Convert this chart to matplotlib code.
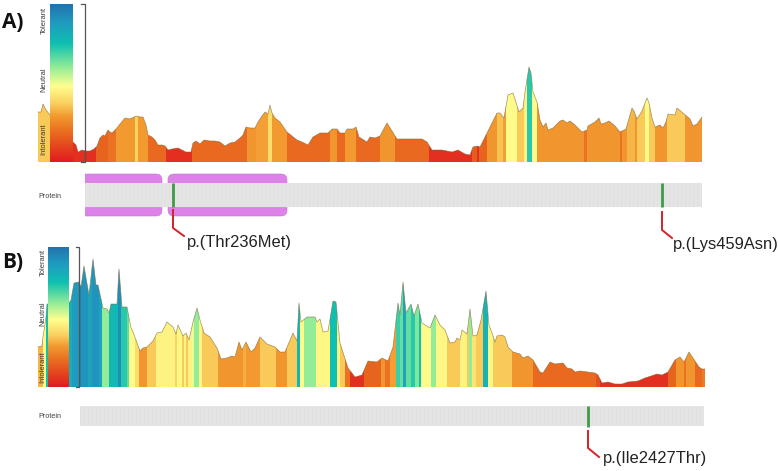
"""Two tolerance landscapes with protein tracks and labelled variants."""
import numpy as np
import matplotlib
matplotlib.use('Agg')
import matplotlib.pyplot as plt
from matplotlib.colors import LinearSegmentedColormap
from matplotlib.patches import FancyBboxPatch, Polygon, Rectangle

# Heights in pixels above each panel's baseline.
A_X = [38, 41, 43, 46, 50, 73, 76, 78, 82, 86, 90, 94, 97, 100, 103, 105, 108, 110, 112, 116, 120, 125,
       130, 134, 137, 140, 143, 146, 148, 152, 155, 158, 162, 165, 168, 172, 178, 182, 186, 191, 193,
       196, 200, 204, 210, 215, 220, 225, 230, 235, 240, 243, 246, 250, 255, 258, 262, 265, 268, 270,
       272, 275, 280, 287, 292, 297, 302, 308, 313, 320, 328, 332, 337, 340, 345, 347, 353, 356, 359,
       367, 370, 375, 380, 387, 397, 407, 413, 422, 427, 432, 442, 452, 458, 465, 470, 473, 477, 480,
       487, 497, 500, 504, 508, 513, 519, 523, 525, 529, 531, 533, 537, 540, 543, 546, 548, 553, 560,
       563, 567, 570, 575, 582, 587, 588, 595, 599, 601, 605, 609, 615, 620, 626, 632, 634, 637, 642,
       647, 649, 652, 655, 660, 663, 666, 668, 675, 677, 683, 690, 693, 697, 702]
A_H = [50, 50, 58, 52, 47, 20, 17, 10, 12, 11, 11, 13, 16, 24, 27, 26, 32, 30, 29, 33, 38, 44,
       43, 45, 46, 45, 45, 37, 27, 25, 22, 17, 17, 16, 12, 13, 14, 12, 10, 10, 19,
       21, 18, 22, 21, 21, 20, 16, 19, 20, 24, 27, 35, 34, 34, 40, 46, 50, 48, 57,
       49, 44, 40, 30, 26, 22, 20, 17, 25, 29, 29, 33, 33, 29, 29, 33, 33, 35, 25,
       20, 25, 24, 26, 39, 23, 23, 23, 23, 20, 12, 12, 10, 12, 8, 7, 15, 16, 15,
       29, 49, 49, 44, 67, 69, 50, 54, 70, 95, 89, 70, 60, 42, 35, 39, 32, 34, 41,
       42, 39, 41, 37, 30, 32, 36, 40, 44, 38, 39, 41, 36, 30, 33, 54, 51, 43, 51,
       64, 59, 44, 35, 37, 34, 40, 48, 47, 54, 49, 43, 36, 38, 45]
# Right edge of each coloured stripe and its tolerance score (0 intolerant, 1 tolerant).
A_EDGES = [73, 96, 108, 116, 135, 138, 148, 166, 192, 247, 256, 268, 272, 287, 330, 337, 345, 356, 380,
           395, 429, 472, 477, 479, 487, 497, 503, 506, 517, 524, 527, 532, 537, 584, 587, 620, 622,
           627, 635, 637, 645, 649, 655, 667, 685, 702]
A_SCORES = [0.36, 0.05, 0.17, 0.2, 0.29, 0.38, 0.29, 0.18, 0.05, 0.18, 0.28, 0.3, 0.4, 0.29, 0.18, 0.28,
            0.18, 0.29, 0.18, 0.28, 0.18, 0.05, 0.15, 0.05, 0.17, 0.28, 0.35, 0.3, 0.47, 0.36, 0.45,
            0.72, 0.47, 0.28, 0.2, 0.28, 0.2, 0.28, 0.33, 0.28, 0.36, 0.47, 0.36, 0.28, 0.36, 0.28]

B_X = [38, 42, 43, 46, 47, 69, 71, 74, 79, 81, 84, 89, 93, 96, 98, 103, 107, 109, 111, 117, 119, 122,
       127, 131, 133, 140, 143, 147, 153, 157, 162, 167, 173, 176, 178, 183, 186, 189, 193, 197, 200,
       204, 210, 217, 221, 227, 232, 235, 239, 242, 246, 251, 255, 260, 267, 275, 280, 285, 293, 297,
       299, 301, 307, 315, 317, 320, 323, 328, 333, 336, 340, 348, 355, 362, 368, 377, 382, 388, 393,
       398, 400, 403, 406, 411, 414, 418, 422, 430, 435, 440, 445, 450, 455, 457, 460, 462, 467, 470,
       473, 477, 481, 486, 489, 492, 495, 497, 502, 505, 508, 513, 520, 523, 528, 533, 540, 543, 550,
       555, 563, 567, 572, 575, 580, 595, 598, 602, 608, 615, 622, 628, 638, 645, 657, 662, 668, 675,
       680, 684, 689, 693, 699, 702, 705]
B_H = [40, 41, 50, 70, 83, 84, 87, 104, 105, 100, 121, 92, 128, 102, 102, 79, 78, 74, 83, 83, 118, 80,
       80, 59, 55, 36, 39, 40, 46, 54, 55, 65, 60, 53, 62, 51, 54, 47, 65, 79, 67,
       54, 50, 39, 28, 29, 31, 30, 45, 37, 45, 35, 39, 50, 43, 40, 35, 35, 54, 46,
       84, 65, 70, 70, 65, 68, 55, 56, 86, 85, 44, 19, 10, 12, 26, 25, 29, 26, 40,
       84, 72, 105, 74, 83, 71, 83, 64, 59, 72, 62, 57, 44, 45, 49, 47, 57, 53, 78,
       51, 52, 67, 96, 62, 54, 45, 51, 52, 50, 40, 35, 33, 29, 31, 27, 15, 14, 25,
       23, 24, 19, 18, 15, 16, 14, 12, 4, 5, 3, 3, 5, 6, 9, 13, 12, 15, 27,
       30, 25, 35, 29, 20, 18, 18]
B_EDGES = [43, 46, 48, 72, 79, 81, 88, 92, 99, 102, 109, 118, 121, 127, 129, 135, 139, 147, 156, 175, 177,
           182, 184, 186, 188, 192, 194, 199, 202, 218, 243, 246, 260, 276, 287, 297, 300, 304, 316, 330,
           337, 340, 345, 350, 364, 381, 385, 390, 396, 400, 403, 406, 411, 415, 419, 421, 431, 436, 447,
           460, 467, 469, 472, 476, 483, 488, 493, 512, 533, 596, 600, 668, 676, 684, 686, 695, 702, 705]
B_SCORES = [0.33, 0.47, 0.75, 0.82, 0.88, 0.95, 0.9, 0.85, 0.9, 0.85, 0.6, 0.78, 0.92, 0.72, 0.65, 0.47, 0.4,
            0.28, 0.36, 0.45, 0.38, 0.46, 0.36, 0.46, 0.36, 0.45, 0.5, 0.6, 0.46, 0.36, 0.28, 0.32, 0.29, 0.36,
            0.28, 0.36, 0.78, 0.47, 0.6, 0.46, 0.75, 0.45, 0.36, 0.2, 0.05, 0.17, 0.28, 0.2, 0.3, 0.7, 0.65,
            0.85, 0.65, 0.72, 0.62, 0.75, 0.47, 0.6, 0.46, 0.36, 0.45, 0.36, 0.6, 0.42, 0.36, 0.8, 0.46, 0.36,
            0.28, 0.18, 0.12, 0.05, 0.17, 0.28, 0.2, 0.28, 0.18, 0.22]

SCALE_LABELS = ['Tolerant', 'Neutral', 'Intolerant']
PANEL_LABELS = ['A)', 'B)']
VARIANTS_A = ['p.(Thr236Met)', 'p.(Lys459Asn)']
VARIANTS_B = ['p.(Ile2427Thr)']

CMAP = LinearSegmentedColormap.from_list('tol', [
    (0.0, '#e01b1f'), (0.18, '#e8691f'), (0.29, '#f29a30'), (0.37, '#fad05f'),
    (0.48, '#ffff8e'), (0.6, '#92ec98'), (0.75, '#0fc0b0'), (0.88, '#1f9cc0'), (1.0, '#2272ae')])
TEXT = '#222222'
RED = '#d3222a'


def draw_profile(ax, xs, heights, edges, scores, base):
    outline = [(xs[0], base)] + [(x, base - h) for x, h in zip(xs, heights)] + [(xs[-1], base)]
    clip = Polygon(outline, closed=True, transform=ax.transData, facecolor='none', edgecolor='none')
    ax.add_patch(clip)
    lefts = [xs[0]] + edges[:-1]
    for left, right, score in zip(lefts, edges, scores):
        bar = ax.bar(left, -(max(heights) + 2), width=right - left + 0.4, bottom=base, align='edge',
                     color=CMAP(score), linewidth=0)
        bar[0].set_clip_path(clip)
    ax.plot(xs, [base - h for h in heights], color='#7d6a3a', lw=0.5, alpha=0.7, zorder=3)


def draw_scale(ax, x0, x1, top, base, bracket_x, tick_len, label_x, label_ys):
    grad = np.linspace(1, 0, 256).reshape(-1, 1)
    ax.imshow(grad, cmap=CMAP, vmin=0, vmax=1, extent=(x0, x1, base, top), aspect='auto', zorder=4)
    ax.plot([bracket_x - tick_len, bracket_x, bracket_x, bracket_x - tick_len],
            [top, top, base, base], color='#555555', lw=0.9, zorder=5)
    for text, y in zip(SCALE_LABELS, label_ys):
        ax.text(label_x, y, text, rotation=90, ha='center', va='center', fontsize=5.4,
                color='#3a3a3a', zorder=6)


def draw_track(ax, x0, x1, top, bottom, text_y):
    ax.add_patch(Rectangle((x0, top), x1 - x0, bottom - top, facecolor='#e4e4e4', edgecolor='none', zorder=2))
    ax.vlines(np.arange(x0, x1, 4), top, bottom, color='#e0e0e0', lw=0.4, zorder=2)
    ax.text(38, text_y, 'Protein', ha='left', va='center', fontsize=5.2, color='#444444')


def draw_variant(ax, x, top, bottom, line_top, knee, end, text, text_xy):
    ax.plot([x, x], [top, bottom], color='#3f9a4a', lw=2, solid_capstyle='butt', zorder=4)
    ax.plot([x, x, end[0]], [line_top, knee, end[1]], color=RED, lw=1.4, zorder=4)
    ax.text(text_xy[0], text_xy[1], text, ha='left', va='center', fontsize=11.9, color=TEXT)


def main():
    plt.rcParams['font.family'] = ['Liberation Sans', 'DejaVu Sans']
    fig = plt.figure(figsize=(7.78, 4.71), dpi=100)
    ax = fig.add_axes([0, 0, 1, 1])

    # --- panel A ---
    draw_profile(ax, A_X, A_H, A_EDGES, A_SCORES, 162)
    draw_scale(ax, 50, 73, 4, 162, 85, 4, 44, [21, 80, 139])
    clip = Rectangle((85, 170), 300, 50, transform=ax.transData)
    first = FancyBboxPatch((65, 174), 97, 42, boxstyle='round,pad=0,rounding_size=6',
                           facecolor='#dc82e8', edgecolor='#c973d6', lw=0.4, zorder=1)
    ax.add_patch(first)
    first.set_clip_path(clip)
    ax.add_patch(FancyBboxPatch((168, 174), 119, 42, boxstyle='round,pad=0,rounding_size=6',
                                facecolor='#dc82e8', edgecolor='#c973d6', lw=0.4, zorder=1))
    draw_track(ax, 85, 702, 183, 207, 197)
    draw_variant(ax, 173, 183, 207, 210, 228, (184, 236), VARIANTS_A[0], (187, 242))
    draw_variant(ax, 662, 183, 207, 212, 230, (672, 238), VARIANTS_A[1], (673, 245))

    # --- panel B ---
    draw_profile(ax, B_X, B_H, B_EDGES, B_SCORES, 387)
    draw_scale(ax, 48, 69, 247, 387, 79, 3, 43, [262, 314, 367])
    draw_track(ax, 80, 704, 406, 426, 417)
    draw_variant(ax, 588, 406, 427, 431, 448, (599, 457), VARIANTS_B[0], (603, 458))

    ax.text(2, 23, PANEL_LABELS[0], fontsize=15, fontweight='bold', color='#111111',
            family=['Open Sans', 'DejaVu Sans'], ha='left', va='center')
    ax.text(2, 262, PANEL_LABELS[1], fontsize=15, fontweight='bold', color='#111111',
            family=['Open Sans', 'DejaVu Sans'], ha='left', va='center')

    ax.set_xlim(0, 778)
    ax.set_ylim(471, 0)
    ax.axis('off')
    fig.savefig('out.png', dpi=100, facecolor='white')


if __name__ == '__main__':
    main()
